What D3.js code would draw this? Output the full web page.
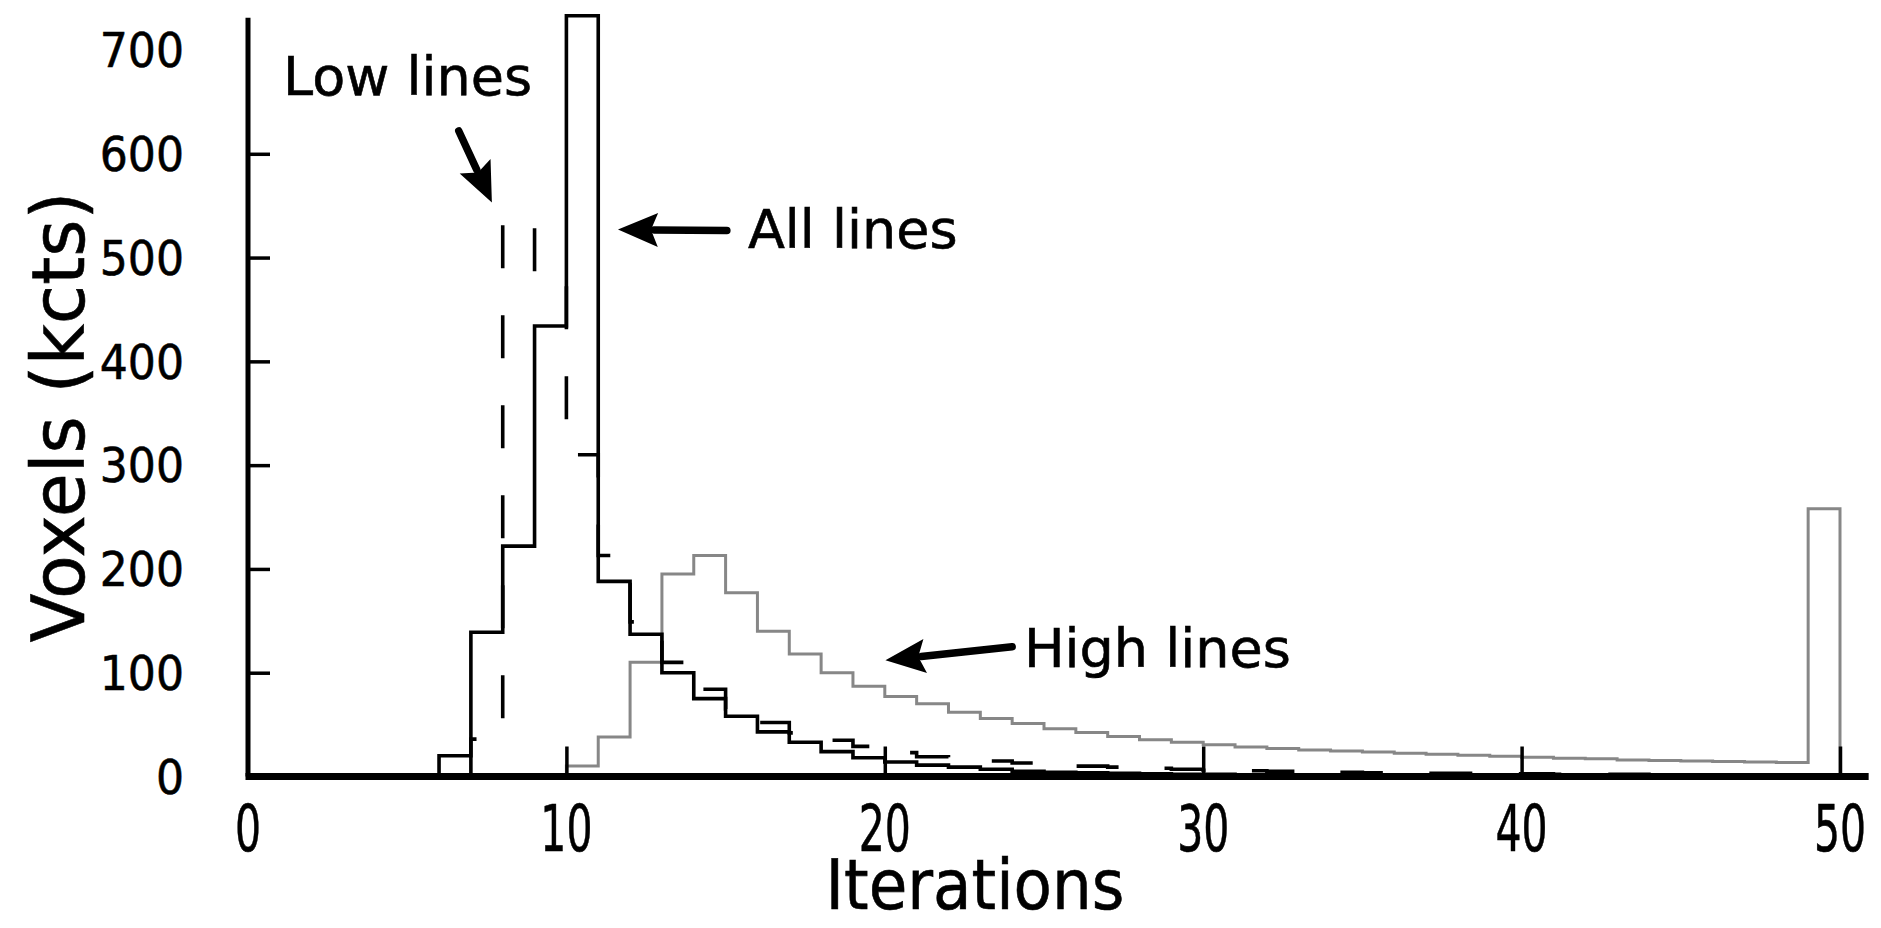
<!DOCTYPE html>
<html><head><meta charset="utf-8">
<script src="https://cdn.jsdelivr.net/npm/d3@7"></script>
<style>html,body{margin:0;padding:0;background:#fff;} svg{display:block}</style>
</head><body>
<script>
// ---- data (bins start at these iteration values, width 1) ----
const iterations = [0,1,2,3,4,5,6,7,8,9,10,11,12,13,14,15,16,17,18,19,20,21,22,23,24,25,26,27,28,29,30,31,32,33,34,35,36,37,38,39,40,41,42,43,44,45,46,47,48,49];
const allLines  = [0,0,0,0,0,0,20,139,222,434,733,188,137,100,75,58,43,33,24,18,14,11,9,7,5,4,3.5,3,2.5,2,2,1.5,1.5,1.5,1,1,1,1,0.8,0.8,0.8,0.6,0.6,0.6,0.5,0.5,0.5,0.5,0.5,0.5];
const lowLines  = [0,0,0,0,0,0,0,36,537,477,310,213,149,110,84,65,52,42,35,29,23,19,17,15,13,11,10,9,8,7,6,5.5,5,4.5,4,3.5,3.5,3,3,2.5,2.5,2,2,2,1.5,1.5,1.5,1,1,1];
const highLines = [0,0,0,0,0,0,0,0,0,0,10,38,110,195,213,177,140,118,100,87,77,70,62,56,51,46,42.5,38.5,35.5,33,30.5,28.5,27,25.5,24.5,23.5,22.5,21.5,20.5,19.5,18.5,17.5,17,16,15.5,15,14.5,14,13.5,258];
const xTickValues = [0,10,20,30,40,50];
const yTickValues = [0,100,200,300,400,500,600,700];
const yTickMarks  = [100,200,300,400,500,600];
const xTitle = "Iterations";
const yTitle = "Voxels (kcts)";
const annotations = ["Low lines","All lines","High lines"];

const W = 1881, H = 928;
const svg = d3.select("body").append("svg").attr("width", W).attr("height", H);

const x = d3.scaleLinear().domain([0, 50]).range([248, 1840]);
const y = d3.scaleLinear().domain([0, 700]).range([776.5, 50]);

function stepPoints(vals) {
  const first = vals.findIndex(v => v > 0);
  const last = vals.length - 1;
  const pts = [[iterations[first], 0]];
  for (let i = first; i <= last; i++) pts.push([iterations[i], vals[i]]);
  pts.push([iterations[last] + 1, vals[last]]);
  pts.push([iterations[last] + 1, 0]);
  return pts;
}
const line = d3.line().x(d => x(d[0])).y(d => y(d[1])).curve(d3.curveStepAfter);

// series
svg.append("path").attr("d", line(stepPoints(highLines)))
  .attr("fill", "none").attr("stroke", "#878787").attr("stroke-width", 3);
svg.append("path").attr("d", line(stepPoints(lowLines)))
  .attr("fill", "none").attr("stroke", "#000").attr("stroke-width", 3.6)
  .attr("stroke-dasharray", "43,47");
svg.append("path").attr("d", line(stepPoints(allLines)))
  .attr("fill", "none").attr("stroke", "#000").attr("stroke-width", 3.6);

// axes (ticks pointing inward)
const xAxis = d3.axisBottom(x).tickValues(xTickValues.filter(v => v > 0)).tickSize(-30).tickFormat("");
const gx = svg.append("g").attr("transform", `translate(0,${y(0)})`).call(xAxis);
gx.select(".domain").remove();
gx.selectAll(".tick line").attr("stroke", "#000").attr("stroke-width", 3.5);

const yAxis = d3.axisLeft(y).tickValues(yTickMarks).tickSize(-22).tickFormat("");
const gy = svg.append("g").attr("transform", `translate(${x(0)},0)`).call(yAxis);
gy.select(".domain").remove();
gy.selectAll(".tick line").attr("stroke", "#000").attr("stroke-width", 3.5);

// axis lines
svg.append("line").attr("x1", x(0) - 2.5).attr("x2", x(50.9)).attr("y1", y(0)).attr("y2", y(0))
  .attr("stroke", "#000").attr("stroke-width", 7);
svg.append("line").attr("x1", x(0)).attr("x2", x(0)).attr("y1", y(0)).attr("y2", y(731))
  .attr("stroke", "#000").attr("stroke-width", 5);

// helper for horizontally-scaled text
function stext(px, py, sx, str, size, anchor, rot) {
  const g = svg.append("g").attr("transform", `translate(${px},${py})${rot ? ` rotate(${rot})` : ""} scale(${sx},1)`);
  return g.append("text").text(str).attr("font-family", "DejaVu Sans, Verdana, sans-serif")
    .attr("font-size", size).attr("text-anchor", anchor).attr("fill", "#000")
    .attr("stroke", "#000").attr("stroke-width", 0.6);
}

// tick labels
xTickValues.forEach(v => stext(x(v), 851, 0.64, String(v), 64, "middle"));
yTickValues.forEach(v => stext(184, y(v), 0.92, String(v), 48, "end").attr("dy", "0.36em"));

// titles
stext(975, 909, 0.91, xTitle, 69, "middle");
stext(84, 417, 0.98, yTitle, 73, "middle", -90);

// annotations
stext(x(1.1), y(657), 1, annotations[0], 54, "start");
stext(x(15.7), y(509), 1, annotations[1], 54, "start");
stext(x(24.37), y(105.5), 1, annotations[2], 54, "start");

// arrows
function arrow(x0, v0, x1, v1) {
  const X0 = x(x0), Y0 = y(v0), X1 = x(x1), Y1 = y(v1);
  const ang = Math.atan2(Y1 - Y0, X1 - X0);
  const L = 40, Wd = 17;
  const bx = X1 - L * Math.cos(ang), by = Y1 - L * Math.sin(ang);
  svg.append("line").attr("x1", X0).attr("y1", Y0).attr("x2", bx + 4 * Math.cos(ang)).attr("y2", by + 4 * Math.sin(ang))
    .attr("stroke", "#000").attr("stroke-width", 7.5).attr("stroke-linecap", "round");
  const px = -Math.sin(ang), py = Math.cos(ang);
  svg.append("path").attr("d", `M${X1},${Y1}L${bx + Wd * px},${by + Wd * py}L${bx + 7 * Math.cos(ang)},${by + 7 * Math.sin(ang)}L${bx - Wd * px},${by - Wd * py}Z`)
    .attr("fill", "#000");
}
arrow(6.62, 622, 7.66, 553);
arrow(15.04, 526, 11.62, 527);
arrow(24.0, 125, 20.02, 112);
</script>
</body></html>
